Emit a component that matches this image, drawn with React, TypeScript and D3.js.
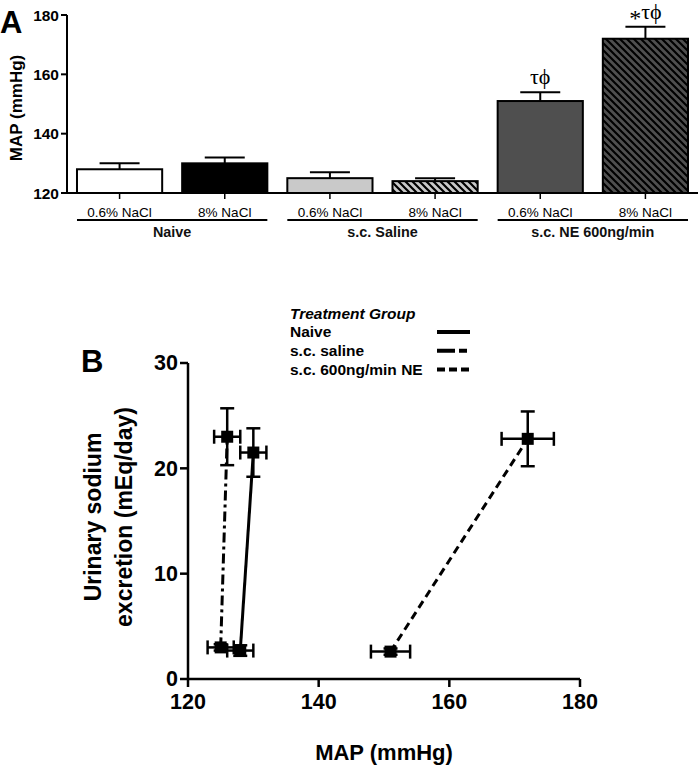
import React from "react";
import * as d3 from "d3";

// ---------- Panel A data ----------
const barCategories = ["0.6% NaCl", "8% NaCl", "0.6% NaCl", "8% NaCl", "0.6% NaCl", "8% NaCl"];
const barGroups = ["Naive", "s.c. Saline", "s.c. NE 600ng/min"];
const barMeans = [128, 130, 125, 124, 151, 172];
const barSEM = [2, 2, 2, 1, 3, 4];
const barStars = ["", "", "", "", "", "*"];
const barAnnotations = ["", "", "", "", "τϕ", "τϕ"];
const barYTicks = [120, 140, 160, 180];

// ---------- Panel B data ----------
const seriesNames = ["Naive", "s.c. saline", "s.c. 600ng/min NE"];
const mapValues = [[128, 130], [125, 126], [151, 172]];
const mapErr = [[2, 2], [2, 2], [3, 4]];
const sodiumValues = [[2.7, 21.5], [3.0, 23.0], [2.6, 22.8]];
const sodiumErr = [[0.5, 2.3], [0.3, 2.7], [0.3, 2.6]];
const scatterXTicks = [120, 140, 160, 180];
const scatterYTicks = [0, 10, 20, 30];

const FONT = "'Liberation Sans', Arial, Helvetica, sans-serif";
const SERIF = "'Liberation Serif', 'Times New Roman', serif";

const barFills = ["#ffffff", "#000000", "#c9c9c9", "#c9c9c9", "#4f4f4f", "#4f4f4f"];
const barHatch = [false, false, false, true, false, true];
const lineDash = [null, "10,4,3,4", "8,5"];
const legendDash = [null, "18,4,8", "8,4"];

export default function App() {
  // Panel A scales
  const xA = d3.scaleBand<number>().domain(d3.range(6)).range([67, 698]).paddingInner(0.19).paddingOuter(0.095);
  const yA = d3.scaleLinear().domain([120, 180]).range([193, 15]);
  const bw = xA.bandwidth();

  // Panel B scales
  const xB = d3.scaleLinear().domain([120, 180]).range([188, 580]);
  const yB = d3.scaleLinear().domain([0, 30]).range([679, 363]);
  const line = d3.line<[number, number]>().x((d) => xB(d[0])).y((d) => yB(d[1]));

  const sq = 12;
  const capB = 7;

  return (
    <svg width={700} height={767} style={{ position: "absolute", left: 0, top: 0, background: "#fff" }} fontFamily={FONT}>
      <defs>
        {["#c9c9c9", "#4f4f4f"].map((bg, i) => (
          <pattern key={i} id={`hatch${i}`} patternUnits="userSpaceOnUse" width={7} height={7}>
            <rect width={7} height={7} fill={bg} />
            <path d="M-1,-1 L8,8 M-1,6 L1,8 M6,-1 L8,1" stroke="#000" strokeWidth={2.2} />
          </pattern>
        ))}
      </defs>

      {/* ===== Panel A ===== */}
      <text x={0} y={33} fontSize={31} fontWeight="bold">A</text>
      <text transform={`translate(22,108) rotate(-90)`} textAnchor="middle" fontSize={17} fontWeight="bold">MAP (mmHg)</text>

      {barMeans.map((m, i) => {
        const x = xA(i)!;
        const cx = x + bw / 2;
        return (
          <g key={i}>
            <line x1={cx} x2={cx} y1={yA(m)} y2={yA(m + barSEM[i])} stroke="#000" strokeWidth={2} />
            <line x1={cx - 20} x2={cx + 20} y1={yA(m + barSEM[i])} y2={yA(m + barSEM[i])} stroke="#000" strokeWidth={2} />
            <rect x={x} y={yA(m)} width={bw} height={yA(120) - yA(m)}
              fill={barHatch[i] ? `url(#hatch${barFills[i] === "#4f4f4f" ? 1 : 0})` : barFills[i]}
              stroke="#000" strokeWidth={2} />
            {barAnnotations[i] && (
              <text x={cx} y={yA(m + barSEM[i]) - 8} textAnchor="middle" fontFamily={SERIF} fontSize={22}>
                {barStars[i] && <tspan fontSize={24} dy={7}>{barStars[i]}</tspan>}
                <tspan dy={barStars[i] ? -7 : 0}>{barAnnotations[i]}</tspan>
              </text>
            )}
            <line x1={cx} x2={cx} y1={193} y2={199} stroke="#000" strokeWidth={1.5} />
            <text x={cx} y={217} textAnchor="middle" fontSize={13.5}>{barCategories[i]}</text>
          </g>
        );
      })}

      {/* A axes */}
      <line x1={67} x2={67} y1={yA(180)} y2={yA(120)} stroke="#000" strokeWidth={2} />
      <line x1={66} x2={698} y1={yA(120)} y2={yA(120)} stroke="#000" strokeWidth={2} />
      {barYTicks.map((t) => (
        <g key={t}>
          <line x1={61} x2={67} y1={yA(t)} y2={yA(t)} stroke="#000" strokeWidth={2} />
          <text x={59} y={yA(t)} dy="0.36em" textAnchor="end" fontSize={15.5} fontWeight="bold">{t}</text>
        </g>
      ))}

      {barGroups.map((g, gi) => {
        const x0 = xA(gi * 2)!;
        const x1 = xA(gi * 2 + 1)! + bw;
        return (
          <g key={g}>
            <line x1={x0} x2={x1} y1={220} y2={220} stroke="#000" strokeWidth={2} />
            <text x={(x0 + x1) / 2} y={237} textAnchor="middle" fontSize={14.4} fontWeight="bold" fill="#111">{g}</text>
          </g>
        );
      })}

      {/* ===== Panel B ===== */}
      <text x={81} y={372} fontSize={31} fontWeight="bold">B</text>
      <text transform={`translate(101,517) rotate(-90)`} textAnchor="middle" fontSize={23} fontWeight="bold">Urinary sodium</text>
      <text transform={`translate(132,517) rotate(-90)`} textAnchor="middle" fontSize={23} fontWeight="bold">excretion (mEq/day)</text>
      <text x={384} y={760} textAnchor="middle" fontSize={22} fontWeight="bold">MAP (mmHg)</text>

      {/* legend */}
      <text x={290} y={319} fontSize={15.5} fontWeight="bold" fontStyle="italic">Treatment Group</text>
      {seriesNames.map((s, i) => {
        const by = 337 + i * 18.8;
        return (
          <g key={s}>
            <text x={290} y={by} fontSize={15.5} fontWeight="bold">{s}</text>
            <line x1={437} x2={470} y1={by - 5} y2={by - 5} stroke="#000" strokeWidth={4}
              strokeDasharray={legendDash[i] ?? undefined} />
          </g>
        );
      })}

      {/* B axes */}
      <line x1={xB(120)} x2={xB(120)} y1={yB(30)} y2={yB(0)} stroke="#000" strokeWidth={2.5} />
      <line x1={xB(120)} x2={xB(180)} y1={yB(0)} y2={yB(0)} stroke="#000" strokeWidth={2.5} />
      {scatterYTicks.map((t) => (
        <g key={t}>
          <line x1={xB(120) - 8} x2={xB(120)} y1={yB(t)} y2={yB(t)} stroke="#000" strokeWidth={2.5} />
          <text x={178} y={yB(t)} dy="0.34em" textAnchor="end" fontSize={21.5} fontWeight="bold">{t}</text>
        </g>
      ))}
      {scatterXTicks.map((t) => (
        <g key={t}>
          <line x1={xB(t)} x2={xB(t)} y1={yB(0)} y2={yB(0) + 8} stroke="#000" strokeWidth={2.5} />
          <text x={xB(t)} y={709} textAnchor="middle" fontSize={21.5} fontWeight="bold">{t}</text>
        </g>
      ))}

      {/* series lines */}
      {seriesNames.map((s, i) => {
        const pts: [number, number][] = mapValues[i].map((m, j) => [m, sodiumValues[i][j]]);
        return (
          <path key={s} d={line(pts)!} fill="none" stroke="#000" strokeWidth={3}
            strokeDasharray={lineDash[i] ?? undefined} />
        );
      })}

      {/* error bars and markers */}
      {seriesNames.map((s, i) =>
        mapValues[i].map((m, j) => {
          const cx = xB(m);
          const cy = yB(sodiumValues[i][j]);
          const xl = xB(m - mapErr[i][j]);
          const xr = xB(m + mapErr[i][j]);
          const yt = yB(sodiumValues[i][j] + sodiumErr[i][j]);
          const yb = yB(sodiumValues[i][j] - sodiumErr[i][j]);
          return (
            <g key={`${s}-${j}`} stroke="#000" strokeWidth={2.5}>
              <line x1={xl} x2={xr} y1={cy} y2={cy} />
              <line x1={xl} x2={xl} y1={cy - capB} y2={cy + capB} />
              <line x1={xr} x2={xr} y1={cy - capB} y2={cy + capB} />
              <line x1={cx} x2={cx} y1={yt} y2={yb} />
              <line x1={cx - capB} x2={cx + capB} y1={yt} y2={yt} />
              <line x1={cx - capB} x2={cx + capB} y1={yb} y2={yb} />
              <rect x={cx - sq / 2} y={cy - sq / 2} width={sq} height={sq} fill="#000" stroke="none" />
            </g>
          );
        })
      )}
    </svg>
  );
}
